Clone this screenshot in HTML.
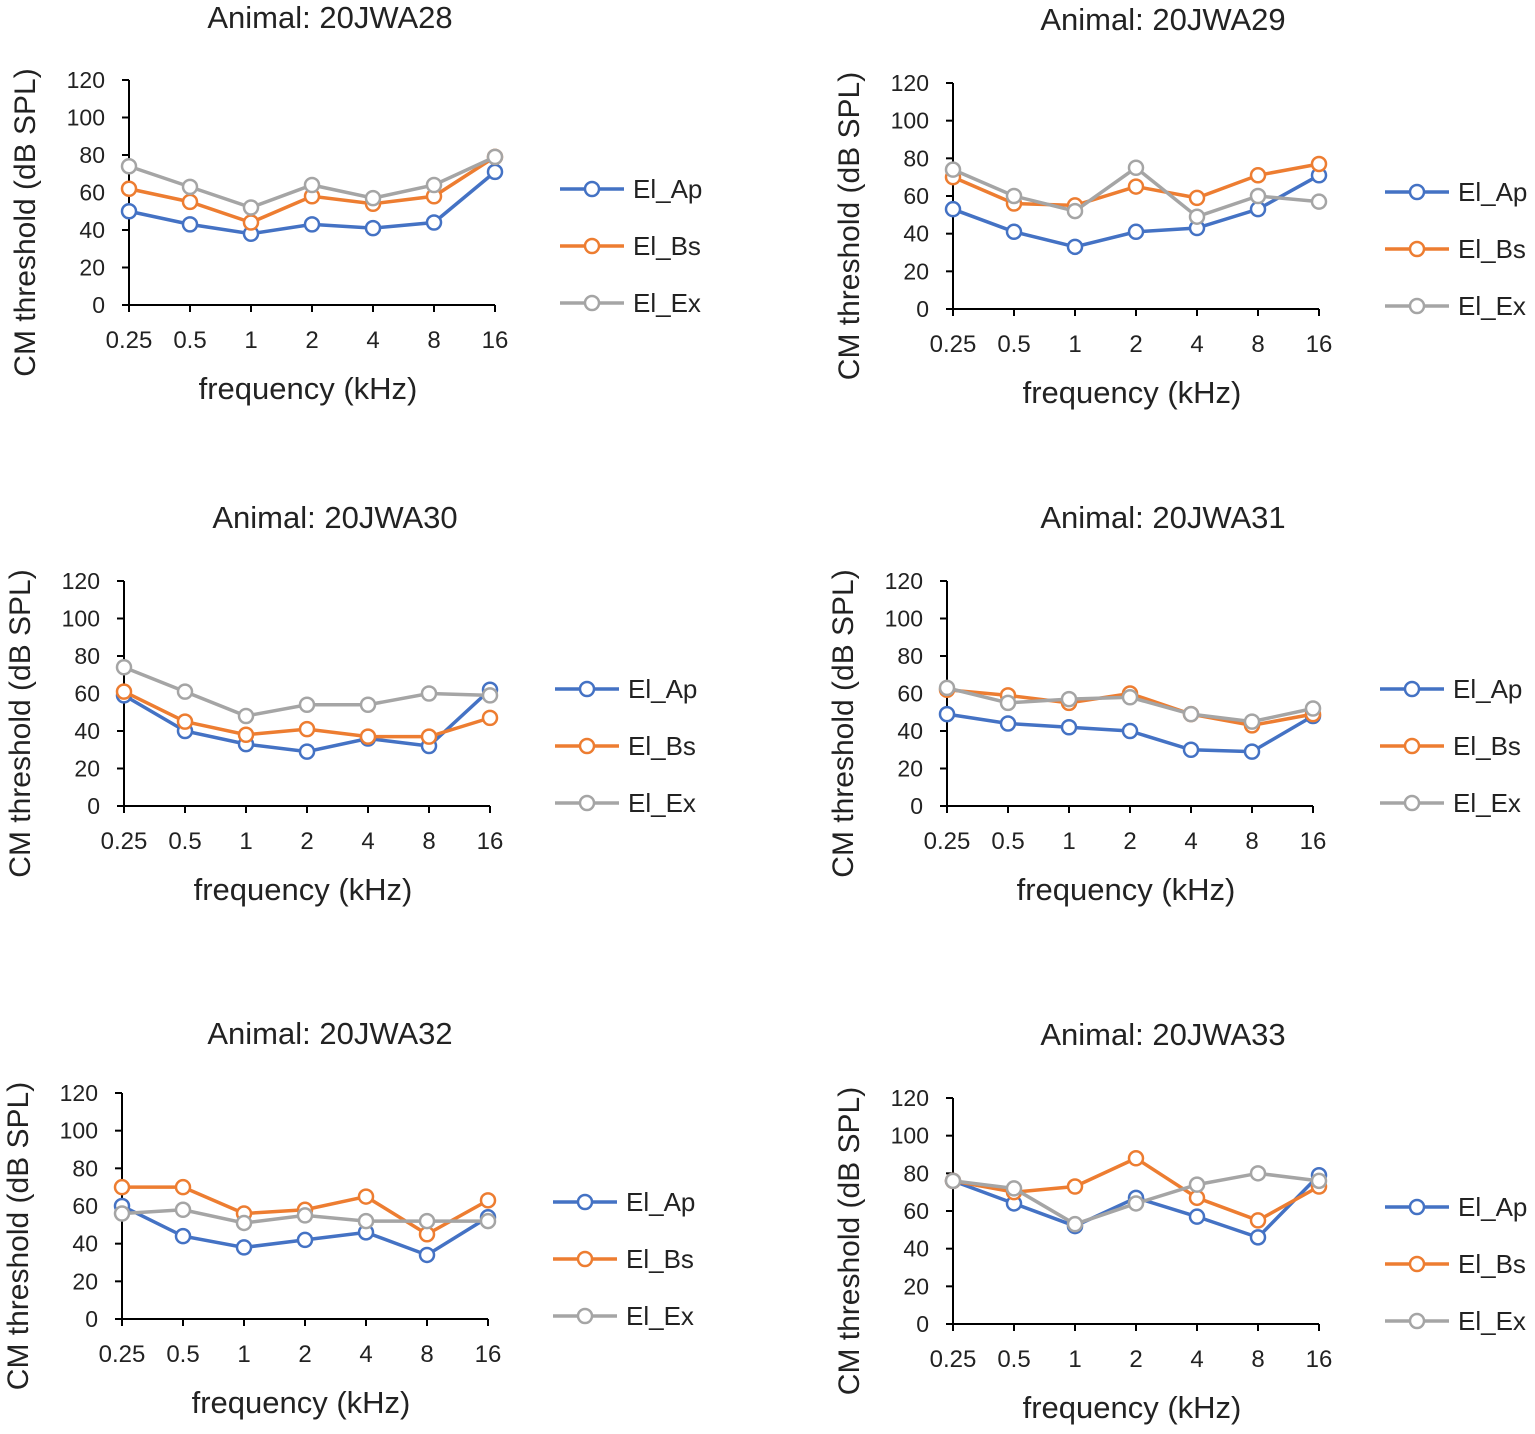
<!DOCTYPE html>
<html><head><meta charset="utf-8"><style>
body{margin:0;background:#fff;width:1535px;height:1429px;overflow:hidden}
svg text{font-family:"Liberation Sans",sans-serif;fill:#222}
</style></head><body>
<svg id="c" width="1535" height="1429"></svg>
<script>
const categories=["0.25","0.5","1","2","4","8","16"];
const yTicks=[0,20,40,60,80,100,120];
const seriesNames=["El_Ap","El_Bs","El_Ex"];
const colors=["#4472C4","#ED7D31","#A5A5A5"];
const titles=["Animal: 20JWA28","Animal: 20JWA29","Animal: 20JWA30","Animal: 20JWA31","Animal: 20JWA32","Animal: 20JWA33"];
const ap=[[50,43,38,43,41,44,71],[53,41,33,41,43,53,71],[59,40,33,29,36,32,62],[49,44,42,40,30,29,48],[60,44,38,42,46,34,54],[76,64,52,67,57,46,79]];
const bs=[[62,55,44,58,54,58,79],[70,56,55,65,59,71,77],[61,45,38,41,37,37,47],[62,59,55,60,49,43,49],[70,70,56,58,65,45,63],[76,70,73,88,67,55,73]];
const ex=[[74,63,52,64,57,64,79],[74,60,52,75,49,60,57],[74,61,48,54,54,60,59],[63,55,57,58,49,45,52],[56,58,51,55,52,52,52],[76,72,53,64,74,80,76]];
const layout=[[129,305,80,330,18,560,189],[953,309,83,1163,20,1385,192],[124,806,581,335,518,555,689],[947,806,581,1163,518,1380,689],[122,1319,1093,330,1034,553,1202],[953,1324,1098,1163,1035,1385,1207]];
const svg=document.getElementById('c');const NS='http://www.w3.org/2000/svg';
function mk(t,a,p){const e=document.createElementNS(NS,t);for(const k in a)e.setAttribute(k,a[k]);(p||svg).appendChild(e);return e;}
layout.forEach((L,pi)=>{
 const [x0,yb,yt,tx,ty,lx,ly]=L;const W=366;
 const g=mk('g',{});
 
 
 const xs=i=>x0+i*W/(categories.length-1);
 const ys=v=>yb-(v/120)*(yb-yt);
 const t=mk('text',{x:tx,y:ty+10,'text-anchor':'middle','font-size':31},g);t.textContent=titles[pi];
 
 const ax=mk('path',{d:`M${x0} ${yt}V${yb}H${x0+W}`,stroke:'#000','stroke-width':2,fill:'none'},g);
 
 yTicks.forEach(v=>{mk('line',{x1:x0-7,x2:x0,y1:ys(v),y2:ys(v),stroke:'#000','stroke-width':2},g);
  const l=mk('text',{x:x0-24,y:ys(v)+8,'text-anchor':'end','font-size':23},g);l.textContent=v;
  });
 categories.forEach((c,i)=>{mk('line',{x1:xs(i),x2:xs(i),y1:yb,y2:yb+7,stroke:'#000','stroke-width':2},g);
  const l=mk('text',{x:xs(i),y:yb+43,'text-anchor':'middle','font-size':24},g);l.textContent=c;
  });
 const xl=mk('text',{x:x0+W/2-4,y:yb+94,'text-anchor':'middle','font-size':31},g);xl.textContent='frequency (kHz)';
 
 const cy=(yb+yt)/2+30;
 const yl=mk('text',{x:0,y:0,'text-anchor':'middle','font-size':30,transform:`translate(${x0-94},${cy}) rotate(-90)`},g);yl.textContent='CM threshold (dB SPL)';
 
 [ap[pi],bs[pi],ex[pi]].forEach((vals,si)=>{
  const p=mk('polyline',{points:vals.map((v,i)=>xs(i)+','+ys(v)).join(' '),fill:'none',stroke:colors[si],'stroke-width':3.5},g);
  
  vals.forEach((v,i)=>{const m=mk('circle',{cx:xs(i),cy:ys(v),r:7,fill:'#fff',stroke:colors[si],'stroke-width':2.5},g);
   });
  const yy=ly+si*57;
  const le=mk('g',{},g);
  
  mk('line',{x1:lx,x2:lx+64,y1:yy,y2:yy,stroke:colors[si],'stroke-width':3.5},le);
  mk('circle',{cx:lx+32,cy:yy,r:7,fill:'#fff',stroke:colors[si],'stroke-width':2.5},le);
  const lt=mk('text',{x:lx+73,y:yy+9,'font-size':26},le);lt.textContent=seriesNames[si];
 });
});
</script>
</body></html>
